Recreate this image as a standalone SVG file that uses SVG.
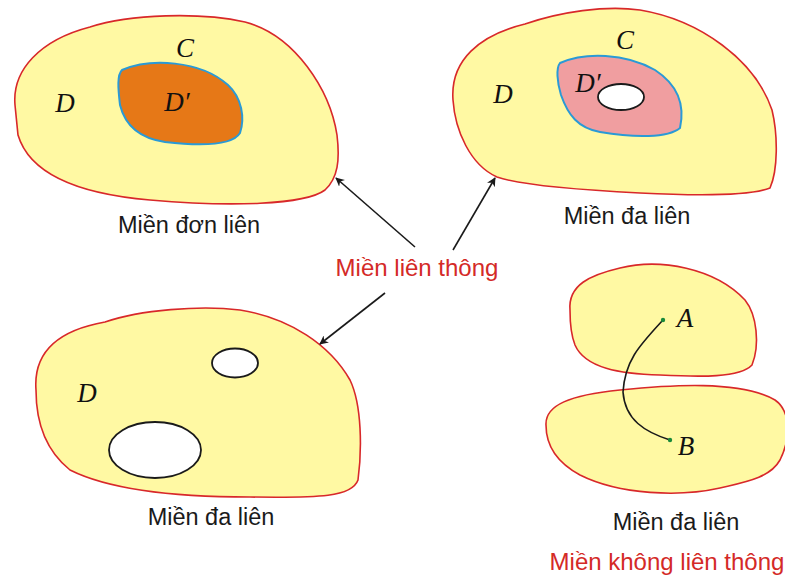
<svg xmlns="http://www.w3.org/2000/svg" width="785" height="578" viewBox="0 0 785 578">
<style>
.blob{fill:#fff9a3;stroke:#d8282a;stroke-width:1.6}
.hole{fill:#fff;stroke:#1a1a1a;stroke-width:1.8}
.inner{stroke:#2a9ad6;stroke-width:2}
.sym{font-family:"Liberation Serif","DejaVu Serif",serif;font-style:italic;font-size:27px;fill:#111}
.cap{font-family:"Liberation Sans",Arial,sans-serif;font-size:23.5px;fill:#1a1a1a;text-anchor:middle}
.red{font-family:"Liberation Sans",Arial,sans-serif;font-size:24px;fill:#d42a27;text-anchor:middle}
.arr{stroke:#1a1a1a;stroke-width:1.6;fill:none;marker-end:url(#ah)}
</style>
<defs>
<marker id="ah" viewBox="0 0 10 10" refX="9" refY="5" markerWidth="9" markerHeight="9" markerUnits="userSpaceOnUse" orient="auto">
<path d="M0,0 L10,5 L0,10 L3,5 Z" fill="#1a1a1a"/>
</marker>
</defs>
<rect width="785" height="578" fill="#fff"/>

<g id="simple">
<path class="blob" d="M15,105 C12,70 40,40 90,27 C130,14 200,12 245,22 C295,35 330,90 337,135 C340,160 338,178 325,190 C305,205 230,207 150,200 C80,194 30,175 18,135 Z"/>
<path class="inner" fill="#e67817" d="M122,70 C150,58 200,60 228,85 C242,98 245,118 240,133 C232,146 200,146 165,142 C138,138 125,125 120,105 C118,88 117,75 122,70 Z"/>
<text class="sym" x="185" y="57" text-anchor="middle">C</text>
<text class="sym" x="65" y="112" text-anchor="middle">D</text>
<text class="sym" x="177" y="111" text-anchor="middle">D′</text>
<text class="cap" x="189" y="233">Miền đơn liên</text>
</g>

<g id="multi1">
<path class="blob" d="M453,100 C450,60 480,35 525,24 C560,12 605,5 640,10 C700,20 755,60 772,110 C778,135 778,170 770,188 C750,196 700,196 640,193 C580,190 520,185 497,177 C470,165 455,130 453,100 Z"/>
<path class="inner" fill="#f09ea0" d="M560,63 C585,52 625,53 655,70 C678,85 685,105 680,128 C668,138 635,138 600,132 C578,128 568,115 561,95 C557,82 556,68 560,63 Z"/>
<ellipse class="hole" cx="621" cy="97" rx="23" ry="13"/>
<text class="sym" x="625" y="49" text-anchor="middle">C</text>
<text class="sym" x="503" y="103" text-anchor="middle">D</text>
<text class="sym" x="588" y="92" text-anchor="middle">D′</text>
<text class="cap" x="627" y="224">Miền đa liên</text>
</g>

<g id="multi2">
<path class="blob" d="M36,390 C33,350 60,330 105,322 C140,310 200,305 240,310 C290,318 330,345 350,380 C362,405 362,450 358,480 C352,497 320,498 250,497 C180,497 110,490 70,470 C45,450 36,420 36,390 Z"/>
<ellipse class="hole" cx="235" cy="363" rx="23" ry="14.5"/>
<ellipse class="hole" cx="155" cy="450" rx="46" ry="28"/>
<text class="sym" x="87" y="402" text-anchor="middle">D</text>
<text class="cap" x="211" y="525">Miền đa liên</text>
</g>

<g id="disconnected">
<path class="blob" d="M570,310 C568,285 590,275 620,268 C660,258 715,268 745,300 C757,315 760,345 752,365 C740,378 700,377 660,375 C620,374 585,368 575,345 C571,335 570,320 570,310 Z"/>
<path class="blob" d="M546,425 C545,405 570,395 620,390 C670,385 740,380 775,400 C792,412 790,440 780,460 C770,478 745,482 720,488 C680,497 620,495 580,475 C556,462 546,445 546,425 Z"/>
<path d="M663,320 C640,345 625,360 623,392 C625,420 645,432 670,440" fill="none" stroke="#1a1a1a" stroke-width="1.6"/>
<circle cx="663" cy="320" r="2.2" fill="#1a8a3a"/>
<circle cx="670" cy="440" r="2.2" fill="#1a8a3a"/>
<text class="sym" x="685" y="327" text-anchor="middle">A</text>
<text class="sym" x="686" y="455" text-anchor="middle">B</text>
<text class="cap" x="676" y="530">Miền đa liên</text>
</g>

<g id="labels">
<text class="red" x="417" y="276">Miền liên thông</text>
<text class="red" x="667" y="570">Miền không liên thông</text>
</g>

<g id="connectors">
<line class="arr" x1="415" y1="247" x2="336" y2="178"/>
<line class="arr" x1="453" y1="250" x2="495" y2="178"/>
<line class="arr" x1="385" y1="293" x2="320" y2="344"/>
</g>
</svg>
